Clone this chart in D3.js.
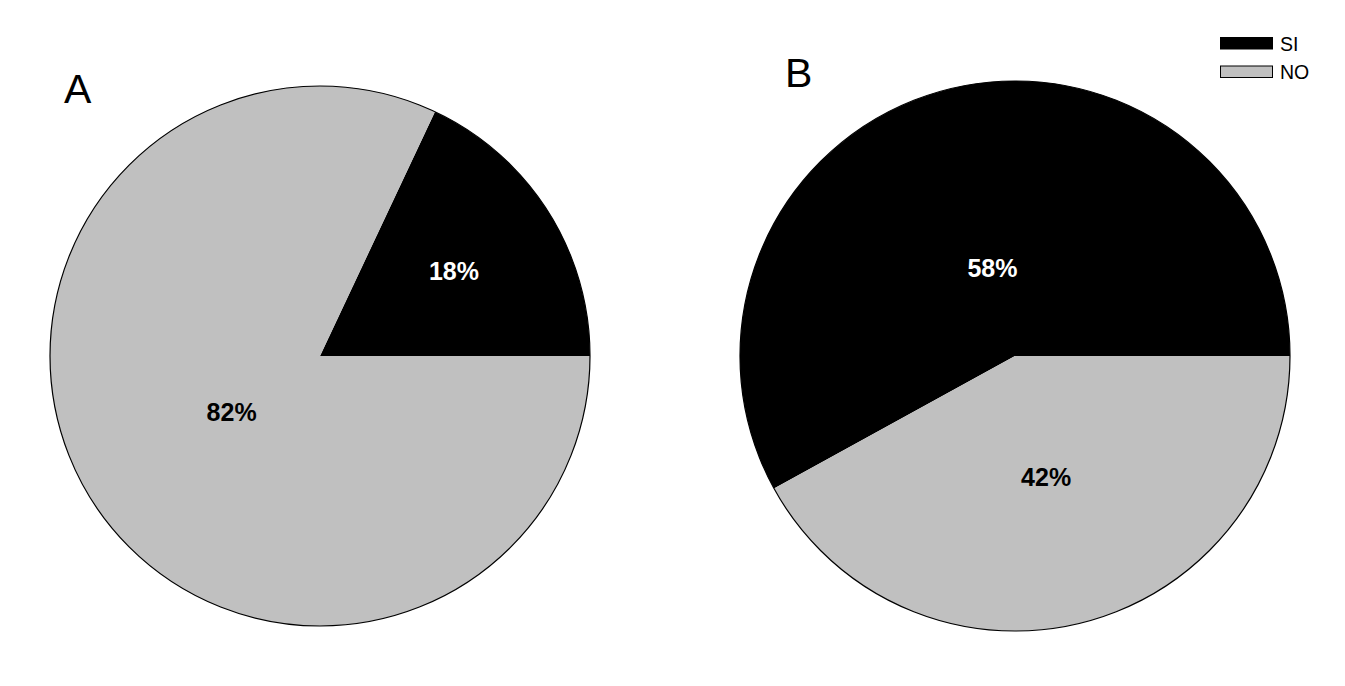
<!DOCTYPE html>
<html>
<head>
<meta charset="utf-8">
<script src="https://cdn.jsdelivr.net/npm/d3@7"></script>
<style>
  body { margin: 0; background: #fff; }
  text { font-family: "Liberation Sans", Arial, sans-serif; }
</style>
</head>
<body>
<svg id="chart" width="1345" height="686"></svg>
<script>
// data
const categories = ["SI", "NO"];
const panelNames = ["A", "B"];
const valuesA = [18, 82];
const valuesB = [58, 42];

const colors = { "SI": "#000000", "NO": "#c0c0c0" };
const labelColors = { "SI": "#ffffff", "NO": "#000000" };

const svg = d3.select("#chart");

// slices start at 3 o'clock and go counter clockwise
const pie = d3.pie()
  .sort(null)
  .startAngle(Math.PI / 2)
  .endAngle(Math.PI / 2 - 2 * Math.PI);

function drawPie(values, name, cx, cy, r, letterX, letterY) {
  let g = svg.append("g").attr("transform", `translate(${cx},${cy})`);
  let data = categories.map((c, i) => ({ cat: c, value: values[i] }));
  let arcs = pie.value(d => d.value)(data);

  let arc = d3.arc().innerRadius(0).outerRadius(r);

  g.selectAll("path.slice")
    .data(arcs)
    .join("path")
    .attr("class", "slice")
    .attr("d", arc)
    .attr("fill", d => colors[d.data.cat]);

  // outline
  g.append("circle")
    .attr("r", r)
    .attr("fill", "none")
    .attr("stroke", "#000")
    .attr("stroke-width", 1.2);

  // labels near the area centroid of the wedge (pushed out for big wedges)
  g.selectAll("text.pct")
    .data(arcs)
    .join("text")
    .attr("class", "pct")
    .attr("transform", d => {
      let th = Math.abs(d.endAngle - d.startAngle);
      let c = 4 * r * Math.sin(th / 2) / (3 * th);
      let dist = Math.max(c * 0.93, r * 0.45 * (1 - c / r));
      let mid = (d.startAngle + d.endAngle) / 2;
      return `translate(${Math.sin(mid) * dist},${-Math.cos(mid) * dist})`;
    })
    .attr("text-anchor", "middle")
    .attr("dy", "0.36em")
    .attr("font-size", 25)
    .attr("font-weight", "bold")
    .attr("fill", d => labelColors[d.data.cat])
    .text(d => d.data.value + "%");

  svg.append("text")
    .attr("x", letterX)
    .attr("y", letterY)
    .attr("font-size", 41)
    .text(name);
}

drawPie(valuesA, panelNames[0], 320, 356, 270, 64, 103);
drawPie(valuesB, panelNames[1], 1015, 356, 275, 785, 87);

// legend
let legend = svg.append("g").attr("transform", "translate(1220,37)");
categories.forEach((c, i) => {
  legend.append("rect")
    .attr("x", 0.5)
    .attr("y", i * 28.5 + 0.5)
    .attr("width", 52)
    .attr("height", 11.5)
    .attr("fill", colors[c])
    .attr("stroke", "#000")
    .attr("stroke-width", 1);
  legend.append("text")
    .attr("x", 60)
    .attr("y", i * 28.5 + 13.5)
    .attr("font-size", 19.5)
    .text(c);
});
</script>
</body>
</html>
